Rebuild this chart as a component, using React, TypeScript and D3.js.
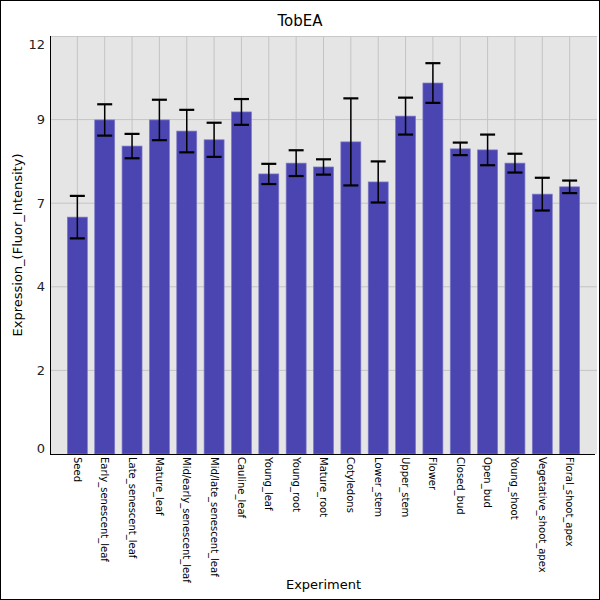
import React from 'react';
import * as d3 from 'd3';

const title = 'TobEA';
const xTitle = 'Experiment';
const yTitle = 'Expression_(Fluor_Intensity)';

const categories = [
  'Seed',
  'Early_senescent_leaf',
  'Late_senescent_leaf',
  'Mature_leaf',
  'Mid/early_senescent_leaf',
  'Mid/late_senescent_leaf',
  'Cauline_leaf',
  'Young_leaf',
  'Young_root',
  'Mature_root',
  'Cotyledons',
  'Lower_stem',
  'Upper_stem',
  'Flower',
  'Closed_bud',
  'Open_bud',
  'Young_shoot',
  'Vegetative_shoot_apex',
  'Floral_shoot_apex',
];

const means = [
  6.8, 9.59, 8.84, 9.59, 9.27, 9.02, 9.82, 8.04, 8.35, 8.24, 8.96, 7.81, 9.7, 10.65, 8.76, 8.73,
  8.35, 7.46, 7.67,
];

const errors = [
  0.61, 0.45, 0.35, 0.58, 0.61, 0.49, 0.37, 0.29, 0.37, 0.22, 1.25, 0.59, 0.53, 0.57, 0.18, 0.44,
  0.27, 0.47, 0.18,
];

const yTicks = [0, 2.4, 4.8, 7.2, 9.6, 12];

const W = 600;
const H = 600;
const margin = { top: 36, right: 3, bottom: 146, left: 50 };
const font = 'DejaVu Sans, sans-serif';

export default function App() {
  const left = margin.left;
  const right = W - margin.right;
  const top = margin.top;
  const bottom = H - margin.bottom;

  const x = d3.scalePoint<string>().domain(categories).range([left, right]).padding(1);
  const y = d3.scaleLinear().domain([0, 12]).range([bottom, top]);
  const barW = x.step() * 0.73;
  const capW = 15;

  return (
    <svg
      width={W}
      height={H}
      style={{ position: 'absolute', left: 0, top: 0, display: 'block' }}
      fontFamily={font}
    >
      <rect x={0.5} y={0.5} width={W - 1} height={H - 1} fill="#fff" stroke="#000" />
      <text x={W / 2} y={26} textAnchor="middle" fontSize={15} fill="#000">
        {title}
      </text>

      {/* plot background */}
      <rect x={left} y={top} width={right - left} height={bottom - top} fill="#e5e5e5" />
      <line x1={left} x2={right} y1={top + 0.5} y2={top + 0.5} stroke="#c8c8c8" />

      {/* grid */}
      {yTicks.slice(1, -1).map((t) => (
        <line key={t} x1={left} x2={right} y1={y(t)} y2={y(t)} stroke="#c4c4c4" strokeWidth={1} />
      ))}
      {categories.map((c) => (
        <line key={c} x1={x(c)} x2={x(c)} y1={top} y2={bottom} stroke="#c4c4c4" strokeWidth={1} />
      ))}

      {/* bars */}
      {categories.map((c, i) => (
        <rect
          key={c}
          x={(x(c) as number) - barW / 2}
          y={y(means[i])}
          width={barW}
          height={bottom - y(means[i])}
          fill="#4a45b1"
          stroke="#7d79c8"
          strokeWidth={0.7}
        />
      ))}

      {/* error bars */}
      {categories.map((c, i) => {
        const cx = x(c) as number;
        const hi = y(means[i] + errors[i]);
        const lo = y(means[i] - errors[i]);
        return (
          <g key={c} stroke="#000">
            <line x1={cx} x2={cx} y1={hi} y2={lo} strokeWidth={1.5} />
            <line x1={cx - capW / 2} x2={cx + capW / 2} y1={hi} y2={hi} strokeWidth={2.2} />
            <line x1={cx - capW / 2} x2={cx + capW / 2} y1={lo} y2={lo} strokeWidth={2.2} />
          </g>
        );
      })}

      {/* axes */}
      <line x1={left + 0.5} x2={left + 0.5} y1={top} y2={bottom} stroke="#000" />
      <line x1={left} x2={right - 2} y1={bottom + 0.5} y2={bottom + 0.5} stroke="#000" />

      {yTicks.map((t) => {
        const ty = Math.min(Math.max(y(t), top + 8), bottom - 6);
        return (
          <text key={t} x={45} y={ty} dy="0.35em" textAnchor="end" fontSize={13} fill="#222">
            {Math.floor(t)}
          </text>
        );
      })}

      {categories.map((c) => (
        <text
          key={c}
          transform={`translate(${x(c)},${bottom + 3}) rotate(90)`}
          dy="0.35em"
          fontSize={10}
          fill="#000"
        >
          {c}
        </text>
      ))}

      <text
        transform={`translate(22,${(top + bottom) / 2}) rotate(-90)`}
        textAnchor="middle"
        fontSize={13}
        fill="#000"
      >
        {yTitle}
      </text>
      <text x={(left + right) / 2} y={589} textAnchor="middle" fontSize={13} fill="#000">
        {xTitle}
      </text>
    </svg>
  );
}
